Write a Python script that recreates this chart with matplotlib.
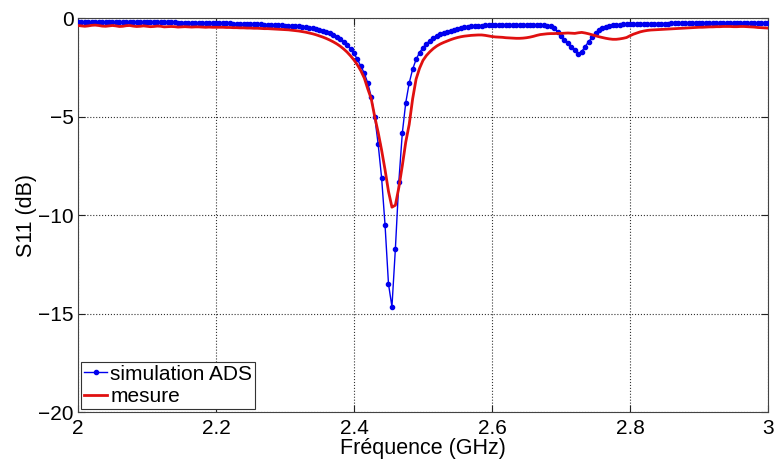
import numpy as np
import matplotlib
matplotlib.use("Agg")
import matplotlib.pyplot as plt

plt.rcParams['font.family'] = ['Liberation Sans', 'DejaVu Sans']
plt.rcParams['axes.unicode_minus'] = True

# Frequency samples (GHz), 0.005 GHz step
freq = np.round(np.linspace(2.0, 3.0, 201), 3)

# Simulated S11 (dB) - ADS
s11_sim = [
    -0.18,-0.18,-0.18,-0.18,-0.19,-0.19,-0.19,-0.19,-0.19,-0.19,-0.20,-0.20,-0.20,-0.20,-0.20,-0.20,-0.20,-0.21,-0.21,-0.21,-0.21,
    -0.21,-0.21,-0.21,-0.22,-0.22,-0.22,-0.22,-0.22,-0.23,-0.23,-0.23,-0.23,-0.24,-0.24,-0.24,-0.24,-0.25,-0.25,-0.25,-0.26,
    -0.26,-0.26,-0.27,-0.27,-0.28,-0.28,-0.29,-0.29,-0.30,-0.30,-0.31,-0.31,-0.32,-0.33,-0.33,-0.34,-0.35,-0.36,-0.37,-0.38,
    -0.39,-0.40,-0.42,-0.43,-0.45,-0.47,-0.49,-0.52,-0.55,-0.60,-0.64,-0.69,-0.75,
    -0.85,-0.95,-1.05,-1.20,-1.35,-1.55,-1.80,
    -2.10,-2.45,-2.80,-3.30,-4.00,-5.00,-6.40,-8.10,-10.50,-13.50,-14.65,
    -11.70,-8.30,-5.85,-4.30,-3.30,-2.60,-2.10,-1.75,-1.50,
    -1.30,-1.15,-1.02,-0.92,-0.83,-0.76,-0.70,-0.64,-0.59,-0.55,-0.51,-0.48,-0.45,-0.43,-0.41,-0.39,-0.38,-0.37,-0.36,-0.36,
    -0.36,-0.36,-0.36,-0.36,-0.36,-0.36,-0.37,-0.37,-0.37,-0.37,-0.37,-0.37,-0.37,-0.37,-0.37,-0.38,-0.42,-0.50,-0.70,-0.92,
    -1.10,-1.28,-1.45,-1.63,-1.82,-1.70,-1.45,-1.20,-0.98,-0.78,-0.62,-0.52,-0.45,-0.40,-0.37,-0.35,-0.33,-0.32,-0.31,-0.30,
    -0.30,-0.30,-0.29,-0.29,-0.29,-0.29,-0.28,-0.28,-0.28,-0.28,-0.28,-0.27,-0.27,-0.27,-0.27,-0.27,-0.27,-0.26,-0.26,-0.26,
    -0.26,-0.26,-0.26,-0.26,-0.25,-0.25,-0.25,-0.25,-0.25,-0.25,-0.25,-0.25,-0.24,-0.24,-0.24,-0.24,-0.24,-0.24,-0.24,-0.24,
]

# Measured S11 (dB)
s11_meas = [
    -0.38,-0.40,-0.42,-0.40,-0.37,-0.36,-0.38,-0.41,-0.42,-0.40,-0.38,-0.40,-0.43,-0.42,-0.39,-0.38,-0.41,-0.43,-0.42,-0.40,-0.42,
    -0.44,-0.43,-0.41,-0.42,-0.45,-0.44,-0.43,-0.44,-0.46,-0.45,-0.44,-0.45,-0.46,-0.45,-0.45,-0.46,-0.47,-0.46,-0.47,-0.47,
    -0.47,-0.47,-0.48,-0.48,-0.49,-0.49,-0.50,-0.50,-0.51,-0.51,-0.52,-0.52,-0.53,-0.54,-0.54,-0.55,-0.56,-0.57,-0.58,-0.59,
    -0.60,-0.62,-0.64,-0.66,-0.69,-0.72,-0.76,-0.80,-0.85,-0.91,-0.97,-1.04,-1.12,-1.21,-1.31,-1.43,-1.57,-1.73,-1.92,-2.13,
    -2.38,-2.68,-3.05,-3.60,-4.10,-5.00,-5.80,-6.70,-7.70,-8.80,-9.60,-9.50,-8.60,-7.50,-6.30,-5.40,-4.10,-3.10,-2.55,-2.15,
    -1.90,-1.71,-1.55,-1.42,-1.32,-1.24,-1.17,-1.10,-1.04,-0.99,-0.95,-0.92,-0.90,-0.88,-0.87,-0.86,-0.86,-0.88,-0.91,-0.94,
    -0.96,-0.97,-0.98,-1.00,-1.01,-1.02,-1.03,-1.03,-1.02,-1.00,-0.97,-0.93,-0.88,-0.84,-0.82,-0.80,-0.79,-0.79,-0.78,-0.78,
    -0.77,-0.76,-0.77,-0.78,-0.75,-0.73,-0.76,-0.80,-0.85,-0.90,-0.95,-0.99,-1.03,-1.06,-1.08,-1.08,-1.06,-1.03,-0.99,-0.90,
    -0.82,-0.76,-0.70,-0.66,-0.63,-0.61,-0.60,-0.59,-0.58,-0.57,-0.56,-0.55,-0.54,-0.53,-0.52,-0.51,-0.50,-0.49,-0.48,-0.47,
    -0.47,-0.46,-0.45,-0.45,-0.44,-0.44,-0.43,-0.43,-0.43,-0.44,-0.44,-0.43,-0.43,-0.44,-0.45,-0.46,-0.48,-0.49,-0.50,-0.51,
]

xticks = [2, 2.2, 2.4, 2.6, 2.8, 3]
xticklabels = ['2', '2.2', '2.4', '2.6', '2.8', '3']
yticks = [-20, -15, -10, -5, 0]
yticklabels = ['\u221220', '\u221215', '\u221210', '\u22125', '0']

fig = plt.figure(figsize=(7.75, 4.62), dpi=100)
ax = fig.add_axes([0.1006, 0.108, 0.8904, 0.853])

ax.plot(freq, s11_sim, color='#0000ee', lw=1.0, marker='.', markersize=6,
        label='simulation ADS', zorder=3)
ax.plot(freq, s11_meas, color='#e01010', lw=2.0, label='mesure', zorder=4)

ax.set_xlim(2, 3)
ax.set_ylim(-20, 0)
ax.set_xticks(xticks)
ax.set_xticklabels(xticklabels)
ax.set_yticks(yticks)
ax.set_yticklabels(yticklabels)
ax.tick_params(direction='in', labelsize=15, length=5, top=True, right=True,
               colors='#222222', labelcolor='black', pad=3)
ax.tick_params(axis='x', pad=5)
ax.grid(True, linestyle=':', color='#333333', linewidth=0.8)
for s in ax.spines.values():
    s.set_color('#444444')
    s.set_linewidth(0.8)

ax.set_xlabel('Fréquence (GHz)', fontsize=15.5, labelpad=0)
ax.set_ylabel('S11 (dB)', fontsize=15.5, labelpad=1)

leg = ax.legend(loc='lower left', fontsize=15, frameon=True, fancybox=False,
                borderpad=0.15, handlelength=1.1, handletextpad=0.15,
                labelspacing=0.15, borderaxespad=0.15, framealpha=1)
leg.get_frame().set_edgecolor('#333333')
leg.get_frame().set_linewidth(0.8)

fig.savefig('out.png', dpi=100)
